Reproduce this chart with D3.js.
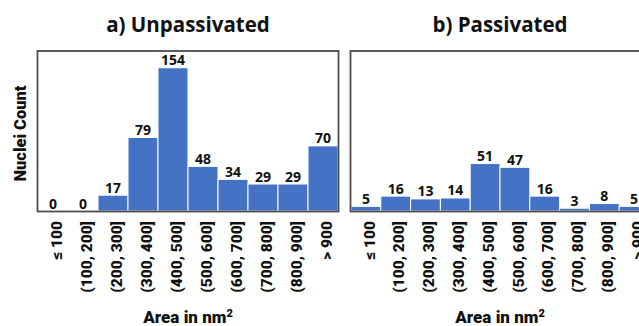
<!DOCTYPE html>
<html>
<head>
<meta charset="utf-8">
<script src="https://cdn.jsdelivr.net/npm/d3@7/dist/d3.min.js"></script>
<style>
  html, body { margin: 0; padding: 0; background: #fff; }
  svg { display: block; }
</style>
</head>
<body>
<svg id="chart" width="639" height="326"></svg>
<script>
// Size-class labels of the nuclei (area bins)
const categories = ["\u2264 100", "(100, 200]", "(200, 300]", "(300, 400]", "(400, 500]",
                    "(500, 600]", "(600, 700]", "(700, 800]", "(800, 900]", "> 900"];
// Nuclei counts per bin
const unpassivated = [0, 0, 17, 79, 154, 48, 34, 29, 29, 70];
const passivated   = [5, 16, 13, 14, 51, 47, 16, 3, 8, 5];
const panelTitles  = ["a) Unpassivated", "b) Passivated"];
const yMax = 172;

const svg = d3.select("#chart");
const barColor = "#4472C4";
const titleFont = "'Open Sans', 'Liberation Sans', sans-serif";
const axisFont = "Roboto, 'Liberation Sans', sans-serif";

const panels = [
  { title: panelTitles[0], values: unpassivated, x0: 38, x1: 338 },
  { title: panelTitles[1], values: passivated,   x0: 351, x1: 649 }
];

const plotTop = 51, plotBottom = 211;
const y = d3.scaleLinear().domain([0, yMax]).range([plotBottom, plotTop]);

panels.forEach(p => {
  const x = d3.scaleBand().domain(categories).range([p.x0, p.x1]).padding(0);
  const g = svg.append("g");
  const data = categories.map((c, i) => ({ c, v: p.values[i] }));

  // bars
  g.selectAll("rect.bar").data(data).join("rect")
    .attr("class", "bar")
    .attr("x", d => x(d.c))
    .attr("y", d => y(d.v))
    .attr("width", x.bandwidth())
    .attr("height", d => y(0) - y(d.v))
    .attr("fill", barColor)
    .attr("stroke", "#fff")
    .attr("stroke-width", 1);

  // plot frame
  g.append("rect")
    .attr("x", p.x0 - 0.5).attr("y", plotTop)
    .attr("width", p.x1 - p.x0 + 1).attr("height", plotBottom - plotTop + 0.5)
    .attr("fill", "none")
    .attr("stroke", "#4d4d4d")
    .attr("stroke-width", 1.8);

  // value labels
  g.selectAll("text.val").data(data).join("text")
    .attr("class", "val")
    .attr("x", d => x(d.c) + x.bandwidth() / 2)
    .attr("y", d => y(d.v) - 2.5)
    .attr("text-anchor", "middle")
    .attr("font-family", titleFont)
    .attr("font-weight", 700)
    .attr("font-size", 14)
    .attr("fill", "#111")
    .text(d => d.v);

  // category axis (rotated labels, no line/ticks)
  const axis = g.append("g")
    .attr("transform", `translate(0,${plotBottom + 10})`)
    .call(d3.axisBottom(x).tickSize(0).tickPadding(0));
  axis.select(".domain").remove();
  axis.selectAll("text")
    .attr("transform", "rotate(-90)")
    .attr("text-anchor", "end")
    .attr("x", 0)
    .attr("y", 0)
    .attr("dy", "0.56em")
    .attr("font-family", axisFont)
    .attr("font-weight", 900)
    .attr("font-size", 15.5)
    .attr("fill", "#111");

  // panel title
  g.append("text")
    .attr("x", (p.x0 + p.x1) / 2)
    .attr("y", 32)
    .attr("text-anchor", "middle")
    .attr("font-family", titleFont)
    .attr("font-weight", 700)
    .attr("font-size", 20.5)
    .attr("fill", "#111")
    .text(p.title);

  // x axis title
  const xt = g.append("text")
    .attr("x", (p.x0 + p.x1) / 2)
    .attr("y", 323)
    .attr("text-anchor", "middle")
    .attr("font-family", axisFont)
    .attr("font-weight", 900)
    .attr("font-size", 17)
    .attr("fill", "#111");
  xt.append("tspan").text("Area in nm");
  xt.append("tspan").attr("dy", -6).attr("font-size", 11).text("2");
});

// y axis title
svg.append("text")
  .attr("transform", "translate(26,133.5) rotate(-90)")
  .attr("text-anchor", "middle")
  .attr("font-family", axisFont)
  .attr("font-weight", 900)
  .attr("font-size", 16.5)
  .attr("fill", "#111")
  .text("Nuclei Count");
</script>
</body>
</html>
